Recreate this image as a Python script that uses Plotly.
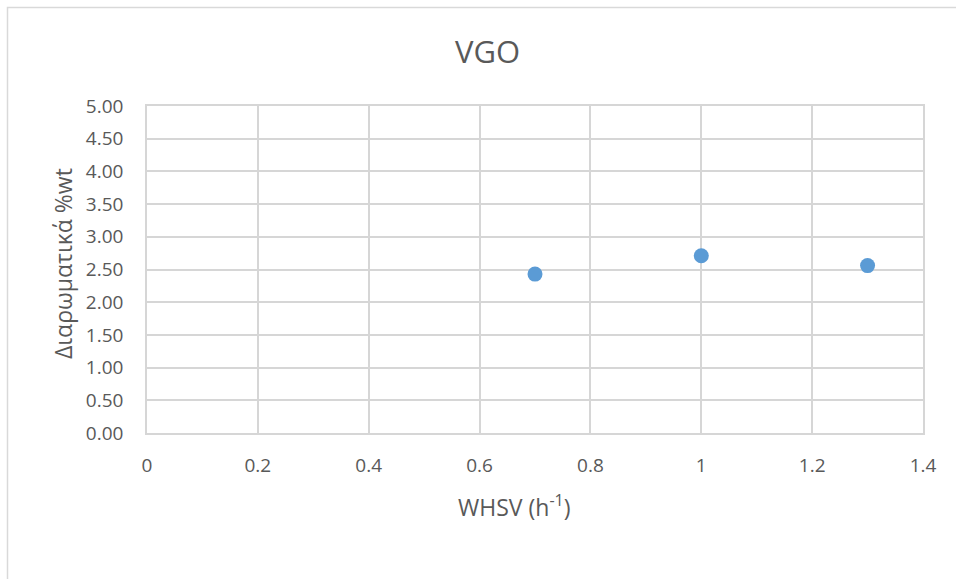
import plotly.graph_objects as go

# WHSV (h^-1) vs diaromatics content (%wt) for VGO
whsv = [0.7, 1.0, 1.3]
diaromatics = [2.43, 2.71, 2.56]

x_ticks = [0, 0.2, 0.4, 0.6, 0.8, 1.0, 1.2, 1.4]
x_tick_labels = ["0", "0.2", "0.4", "0.6", "0.8", "1", "1.2", "1.4"]
y_ticks = [0, 0.5, 1.0, 1.5, 2.0, 2.5, 3.0, 3.5, 4.0, 4.5, 5.0]
y_tick_labels = [f"{v:.2f}" for v in y_ticks]

W, H = 956, 579
L, R, T, B = 147, 923, 106, 433  # plot area in pixels

def px_x(p):
    return (p - L) / (R - L)

def px_y(p):
    return (B - p) / (B - T)

font_family = "Open Sans, DejaVu Sans, sans-serif"
text_color = "#595959"
grid_color = "#D6D6D6"

fig = go.Figure(
    go.Scatter(
        x=whsv,
        y=diaromatics,
        mode="markers",
        marker=dict(size=15, color="#5B9BD5", line=dict(width=0)),
        showlegend=False,
    )
)

fig.update_layout(
    width=W,
    height=H,
    margin=dict(l=L, r=W - R, t=T, b=H - B),
    paper_bgcolor="white",
    plot_bgcolor="white",
    font=dict(family=font_family, color=text_color),
    xaxis=dict(
        range=[0, 1.4],
        tickvals=x_ticks,
        ticktext=x_tick_labels,
        showgrid=True,
        gridcolor=grid_color,
        gridwidth=1.5,
        zeroline=False,
        showline=True,
        linecolor=grid_color,
        linewidth=1.5,
        mirror=True,
        ticks="",
        tickfont=dict(size=19, color=text_color),
        ticklabelstandoff=14,
    ),
    yaxis=dict(
        range=[0, 5],
        tickvals=y_ticks,
        ticktext=y_tick_labels,
        showgrid=True,
        gridcolor=grid_color,
        gridwidth=1.5,
        zeroline=False,
        showline=True,
        linecolor=grid_color,
        linewidth=1.5,
        mirror=True,
        ticks="",
        tickfont=dict(size=19, color=text_color),
        ticklabelstandoff=18,
    ),
    shapes=[
        dict(
            type="rect",
            xref="paper",
            yref="paper",
            x0=px_x(7.5),
            x1=px_x(965),
            y0=px_y(590),
            y1=px_y(7.5),
            line=dict(color="#D9D9D9", width=1.5),
            fillcolor="rgba(0,0,0,0)",
            layer="below",
        )
    ],
    annotations=[
        dict(
            text="VGO",
            xref="paper",
            yref="paper",
            x=px_x(487),
            y=px_y(51),
            showarrow=False,
            xanchor="center",
            yanchor="middle",
            font=dict(size=31, color=text_color, family=font_family),
        ),
        dict(
            text="WHSV (h<sup>-1</sup>)",
            xref="paper",
            yref="paper",
            x=px_x(514),
            y=px_y(506),
            showarrow=False,
            xanchor="center",
            yanchor="middle",
            font=dict(size=23, color=text_color, family=font_family),
        ),
        dict(
            text="Διαρωματικά %wt",
            xref="paper",
            yref="paper",
            x=px_x(63),
            y=px_y(264),
            textangle=-90,
            showarrow=False,
            xanchor="center",
            yanchor="middle",
            font=dict(size=23, color=text_color, family=font_family),
        ),
    ],
)

fig.write_html("out.html")
